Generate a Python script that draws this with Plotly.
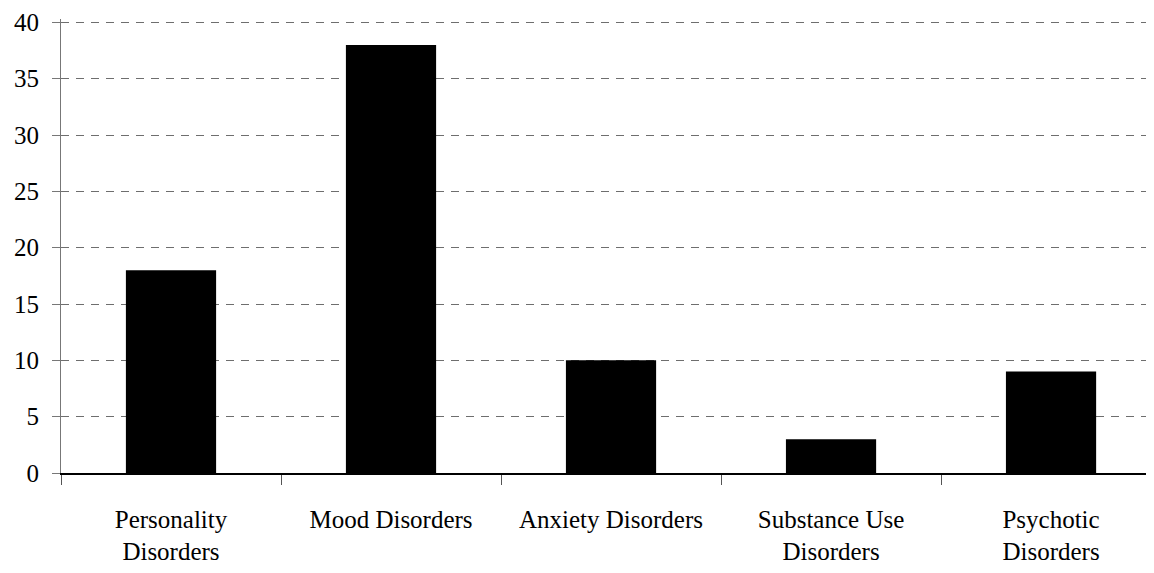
import plotly.graph_objects as go

categories = ["Personality<br>Disorders", "Mood Disorders", "Anxiety Disorders",
              "Substance Use<br>Disorders", "Psychotic<br>Disorders"]
values = [18, 38, 10, 3, 9]
y_ticks = [0, 5, 10, 15, 20, 25, 30, 35, 40]

fig = go.Figure(go.Bar(x=categories, y=values, width=0.41,
                       marker=dict(color="black", line=dict(width=0))))

font = dict(family="Liberation Serif", size=25, color="black")
fig.update_layout(
    width=1146, height=565,
    margin=dict(l=53, r=0, t=11, b=100, autoexpand=False),
    paper_bgcolor="white", plot_bgcolor="white",
    font=font, showlegend=False,
)
fig.update_xaxes(
    type="category", range=[-0.5, 4.468], automargin=False,
    showline=True, linecolor="black", linewidth=1.5,
    ticks="outside", tickson="boundaries", ticklen=10, tickcolor="#555555", tickwidth=1,
    showgrid=False, ticklabelstandoff=23,
)
fig.update_yaxes(
    range=[0, 40.3], tickvals=y_ticks, automargin=False,
    showline=True, linecolor="#777777", linewidth=1,
    ticks="outside", ticklen=8, tickcolor="#777777",
    showgrid=True, gridcolor="#6e6e6e", griddash="8px,7px", gridwidth=1,
    zeroline=False, ticklabelstandoff=8,
)
fig.write_html("out.html")
